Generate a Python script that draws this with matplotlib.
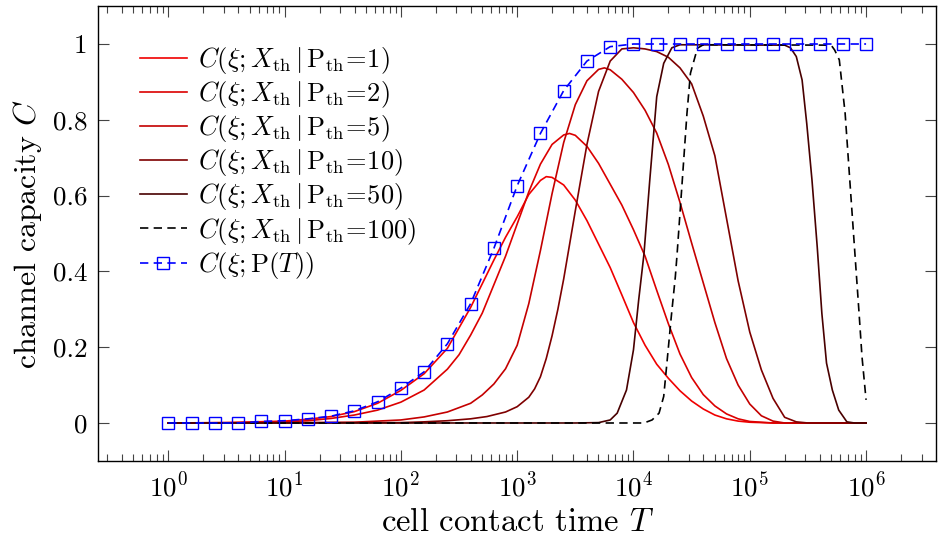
import numpy as np
import matplotlib
matplotlib.use("Agg")
import matplotlib.pyplot as plt
from matplotlib.ticker import FixedLocator, LogLocator, FuncFormatter, NullFormatter, LogFormatterMathtext

plt.rcParams["font.family"] = "cmr10"
plt.rcParams["mathtext.fontset"] = "cm"
plt.rcParams["axes.formatter.use_mathtext"] = True

# curve data (x given as log10 T)
p1_logT = [0.0, 0.5, 1.0, 1.2, 1.4, 1.6, 1.8, 2.0, 2.2, 2.4, 2.6, 2.8, 2.9, 3.0, 3.1,
           3.2, 3.25, 3.3, 3.4, 3.5, 3.6, 3.7, 3.8, 3.9, 4.0, 4.1, 4.2, 4.3, 4.4, 4.5,
           4.6, 4.7, 4.8, 4.9, 5.0, 5.2, 6.0]
p1_C = [0.0, 0.001, 0.005, 0.010, 0.017, 0.030, 0.052, 0.086, 0.130, 0.197, 0.305, 0.430,
        0.490, 0.544, 0.603, 0.640, 0.650, 0.648, 0.628, 0.588, 0.534, 0.472, 0.410, 0.338,
        0.265, 0.205, 0.155, 0.118, 0.085, 0.058, 0.037, 0.021, 0.011, 0.005, 0.002, 0.0, 0.0]

p2_logT = [0.0, 0.6, 1.0, 1.2, 1.4, 1.6, 1.8, 2.0, 2.2, 2.4, 2.5, 2.6, 2.7, 2.8, 2.9,
           3.0, 3.1, 3.2, 3.3, 3.4, 3.45, 3.5, 3.6, 3.7, 3.8, 3.9, 4.0, 4.1, 4.2, 4.3,
           4.4, 4.5, 4.6, 4.7, 4.8, 4.9, 5.0, 5.2, 6.0]
p2_C = [0.0, 0.001, 0.003, 0.006, 0.012, 0.021, 0.034, 0.055, 0.087, 0.142, 0.180, 0.232,
        0.290, 0.365, 0.440, 0.525, 0.610, 0.683, 0.735, 0.760, 0.764, 0.759, 0.730, 0.685,
        0.630, 0.575, 0.510, 0.440, 0.350, 0.262, 0.182, 0.120, 0.075, 0.045, 0.024, 0.011,
        0.004, 0.0, 0.0]

p5_logT = [0.0, 1.0, 1.6, 2.0, 2.2, 2.4, 2.6, 2.7, 2.8, 2.9, 3.0, 3.1, 3.2, 3.3, 3.4,
           3.5, 3.6, 3.7, 3.75, 3.8, 3.9, 4.0, 4.1, 4.2, 4.3, 4.4, 4.5, 4.6, 4.7, 4.8,
           4.9, 5.0, 5.1, 5.2, 5.3, 6.0]
p5_C = [0.0, 0.0005, 0.002, 0.008, 0.016, 0.029, 0.052, 0.074, 0.103, 0.143, 0.205, 0.315,
        0.455, 0.605, 0.740, 0.840, 0.903, 0.933, 0.937, 0.932, 0.907, 0.872, 0.825, 0.765,
        0.682, 0.582, 0.475, 0.370, 0.265, 0.170, 0.100, 0.050, 0.019, 0.005, 0.0, 0.0]

p10_logT = [0.0, 2.0, 2.2, 2.4, 2.6, 2.74, 2.9, 3.0, 3.1, 3.15, 3.2, 3.25, 3.3, 3.35, 3.4,
            3.5, 3.6, 3.7, 3.8, 3.9, 4.0, 4.1, 4.2, 4.3, 4.4, 4.5, 4.6, 4.7, 4.8, 4.9,
            5.0, 5.1, 5.2, 5.3, 5.4, 5.5, 6.0]
p10_C = [0.0, 0.001, 0.003, 0.006, 0.011, 0.017, 0.029, 0.043, 0.068, 0.090, 0.122, 0.170,
         0.230, 0.300, 0.380, 0.560, 0.735, 0.875, 0.955, 0.987, 0.990, 0.987, 0.980, 0.965,
         0.937, 0.895, 0.810, 0.705, 0.540, 0.375, 0.240, 0.140, 0.065, 0.015, 0.003, 0.0, 0.0]

p50_logT = [0.0, 3.5, 3.7, 3.8, 3.86, 3.94, 4.0, 4.045, 4.09, 4.14, 4.2, 4.26, 4.33, 4.4,
            5.3, 5.35, 5.4, 5.45, 5.49, 5.535, 5.58, 5.62, 5.66, 5.71, 5.765, 5.835, 5.9, 6.0]
p50_C = [0.0, 0.0, 0.001, 0.008, 0.026, 0.087, 0.193, 0.325, 0.445, 0.640, 0.861, 0.949,
         0.990, 0.998, 0.997, 0.990, 0.967, 0.905, 0.790, 0.641, 0.465, 0.289, 0.158, 0.087,
         0.034, 0.003, 0.0, 0.0]

p100_logT = [0.0, 4.09, 4.16, 4.22, 4.26, 4.29, 4.325, 4.36, 4.375, 4.42, 4.46, 4.49, 4.55,
             4.6, 5.7, 5.73, 5.77, 5.82, 5.85, 5.88, 5.91, 5.94, 5.965, 6.0]
p100_C = [0.0, 0.0, 0.008, 0.026, 0.070, 0.166, 0.280, 0.386, 0.445, 0.641, 0.817, 0.923,
          0.989, 0.998, 0.997, 0.984, 0.958, 0.817, 0.685, 0.553, 0.421, 0.289, 0.175, 0.061]

# C(xi; P(T)), one marker every 0.2 decade from 10^0 to 10^6
opt_logT = [0.0, 0.2, 0.4, 0.6, 0.8, 1.0, 1.2, 1.4, 1.6, 1.8, 2.0, 2.2, 2.4, 2.6, 2.8, 3.0,
            3.2, 3.4, 3.6, 3.8, 4.0, 4.2, 4.4, 4.6, 4.8, 5.0, 5.2, 5.4, 5.6, 5.8, 6.0]
opt_C = [0.0, 0.0, 0.0, 0.0, 0.004, 0.006, 0.011, 0.018, 0.032, 0.056, 0.092, 0.135, 0.209,
         0.315, 0.461, 0.626, 0.764, 0.877, 0.955, 0.993, 1.0, 1.0, 1.0, 1.0, 1.0, 1.0,
         1.0, 1.0, 1.0, 1.0, 1.0]

P_th = [1, 2, 5, 10, 50, 100]
curves = [(p1_logT, p1_C), (p2_logT, p2_C), (p5_logT, p5_C),
          (p10_logT, p10_C), (p50_logT, p50_C), (p100_logT, p100_C)]
colors = ["#f00000", "#dc0000", "#c40000", "#7e0000", "#480000", "black"]

xticks = [1e0, 1e1, 1e2, 1e3, 1e4, 1e5, 1e6]
yticks = [0, 0.2, 0.4, 0.6, 0.8, 1]

fig = plt.figure(figsize=(9.38, 5.4), dpi=100)
ax = fig.add_axes([0.105, 0.1465, 0.8927, 0.8422])

dash = (0, (5.0, 3.2))
for p, (lt, c), col in zip(P_th, curves, colors):
    label = r"$C(\xi;X_{\mathrm{th}}\,|\,\mathrm{P}_{\mathrm{th}}\!=\!%d)$" % p
    ls = dash if p == 100 else "-"
    ax.plot(10 ** np.asarray(lt), c, color=col, lw=1.2, ls=ls, label=label)

ax.plot(10 ** np.asarray(opt_logT), opt_C, color="blue", lw=1.2, ls=dash,
        marker="s", ms=8, mfc="none", mec="blue", mew=1.0,
        label=r"$C\left(\xi;\mathrm{P}(T)\right)$")

ax.set_xscale("log")
ax.set_xlim(10 ** -0.6, 10 ** 6.6)
ax.set_ylim(-0.1, 1.1)

ax.xaxis.set_major_locator(FixedLocator(xticks))
ax.xaxis.set_major_formatter(LogFormatterMathtext())
ax.xaxis.set_minor_locator(LogLocator(base=10, subs=np.arange(2, 10), numticks=20))
ax.xaxis.set_minor_formatter(NullFormatter())
ax.yaxis.set_major_locator(FixedLocator(yticks))
ax.yaxis.set_major_formatter(FuncFormatter(lambda v, _: f"{v:g}"))

ax.tick_params(which="both", direction="in", top=True, right=True,
               color="#444444", width=0.8, labelsize=19.5, pad=8)
ax.tick_params(which="major", length=8)
ax.tick_params(which="minor", length=5)
for s in ax.spines.values():
    s.set_linewidth(1.0)

ax.set_xlabel(r"cell contact time $T$", fontsize=23.5, labelpad=4)
ax.set_ylabel(r"channel capacity $C$", fontsize=23, labelpad=6)

ax.legend(loc="upper left", bbox_to_anchor=(0.05, 0.915), frameon=False,
          fontsize=19, handlelength=1.75, handletextpad=0.42, labelspacing=0.12,
          borderaxespad=0.0, borderpad=0.0)

fig.savefig("out.png", dpi=100)
